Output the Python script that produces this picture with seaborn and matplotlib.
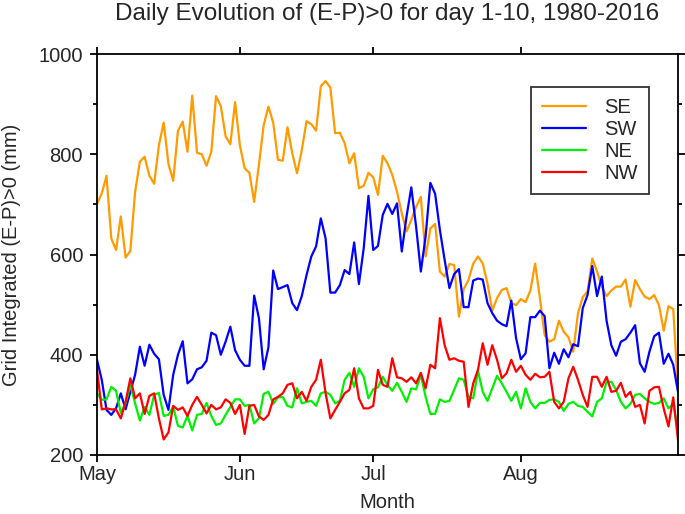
import numpy as np
import pandas as pd
import seaborn as sns
import matplotlib
matplotlib.use('Agg')
import matplotlib.pyplot as plt
from matplotlib.ticker import MultipleLocator

# daily values, 1 May .. 31 Aug (123 days)
se = [701, 722, 757, 632, 609, 676, 594, 607, 725, 785, 795, 757, 741, 818, 863, 781, 747, 847, 865, 805,
      917, 803, 800, 777, 805, 916, 896, 836, 820, 904, 818, 772, 763, 705, 779, 858, 895, 863, 789, 787,
      854, 802, 762, 808, 866, 860, 847, 936, 946, 933, 842, 843, 822, 782, 802, 732, 737, 763, 754, 719,
      797, 782, 759, 725, 682, 646, 669, 695, 715, 596, 652, 661, 566, 556, 581, 579, 476, 531, 549, 582,
      596, 582, 542, 488, 513, 529, 533, 503, 499, 511, 505, 528, 582, 513, 439, 426, 431, 468, 446, 435,
      406, 483, 515, 526, 592, 566, 536, 517, 528, 536, 536, 550, 496, 549, 531, 516, 511, 519, 499, 448,
      497, 491, 330]
sw = [390, 350, 290, 280, 293, 323, 291, 326, 360, 416, 378, 420, 402, 391, 320, 290, 360, 400, 427, 343,
      351, 371, 375, 388, 444, 439, 400, 426, 456, 409, 390, 378, 378, 518, 473, 371, 415, 568, 531, 535,
      539, 503, 489, 517, 559, 596, 616, 672, 632, 524, 524, 539, 569, 561, 624, 541, 612, 717, 609, 617,
      679, 701, 681, 702, 606, 676, 734, 656, 566, 636, 743, 721, 649, 589, 533, 561, 571, 495, 495, 548,
      552, 550, 503, 483, 468, 461, 457, 508, 433, 391, 403, 475, 475, 488, 477, 373, 404, 382, 411, 395,
      421, 417, 493, 519, 577, 517, 556, 468, 419, 398, 426, 431, 444, 459, 383, 366, 406, 437, 444, 382,
      402, 380, 326]
ne = [323, 310, 311, 336, 328, 284, 303, 340, 303, 269, 296, 280, 320, 324, 278, 280, 296, 258, 255, 278,
      249, 280, 282, 304, 278, 260, 263, 280, 296, 311, 311, 298, 300, 263, 273, 322, 326, 302, 315, 316,
      298, 295, 333, 303, 306, 308, 298, 323, 326, 320, 303, 308, 350, 364, 336, 373, 356, 313, 331, 335,
      356, 340, 328, 344, 326, 306, 333, 331, 360, 316, 282, 282, 311, 306, 308, 330, 353, 350, 316, 313,
      368, 326, 308, 333, 358, 343, 326, 308, 326, 293, 333, 306, 293, 304, 304, 310, 311, 306, 288, 302,
      306, 298, 296, 286, 277, 306, 313, 346, 346, 330, 306, 293, 302, 320, 322, 313, 306, 302, 304, 313,
      293, 302, 250]
nw = [370, 291, 293, 291, 291, 273, 306, 353, 313, 323, 282, 318, 323, 273, 231, 245, 298, 290, 295, 278,
      300, 316, 300, 283, 300, 291, 295, 311, 304, 282, 300, 242, 298, 300, 277, 270, 280, 311, 316, 323,
      340, 343, 313, 326, 308, 336, 350, 390, 323, 273, 290, 306, 323, 330, 373, 313, 293, 293, 298, 370,
      340, 336, 393, 355, 353, 346, 355, 343, 364, 333, 380, 373, 473, 419, 390, 393, 388, 386, 296, 343,
      370, 423, 380, 419, 390, 353, 363, 390, 366, 378, 360, 350, 362, 355, 356, 366, 306, 293, 306, 353,
      376, 350, 320, 296, 356, 356, 336, 356, 326, 328, 344, 316, 326, 296, 300, 263, 328, 335, 336, 293,
      257, 315, 230]

regions = ['SE', 'SW', 'NE', 'NW']
colors = ['#FF9A00', '#0000FF', '#00F000', '#FF0000']
month_labels = ['May', 'Jun', 'Jul', 'Aug']
month_ticks = [0, 30, 58, 89]

df = pd.DataFrame({'day': np.arange(len(se)), 'SE': se, 'SW': sw, 'NE': ne, 'NW': nw})
long = df.melt(id_vars='day', var_name='region', value_name='value')

sns.set_style('ticks')
plt.rcParams['font.family'] = ['Liberation Sans', 'DejaVu Sans']

fig = plt.figure(figsize=(6.85, 5.14), dpi=100)
ax = fig.add_axes([97 / 685, 59 / 514, 581 / 685, 401 / 514])

sns.lineplot(data=long, x='day', y='value', hue='region', hue_order=regions,
             palette=colors, linewidth=1.6, ax=ax)

ax.set_xlim(0, len(se) - 1)
ax.set_ylim(200, 1000)
ax.set_xticks(month_ticks)
ax.set_xticklabels(month_labels, fontsize=14.5)
ax.set_yticks([200, 400, 600, 800, 1000])
ax.yaxis.set_minor_locator(MultipleLocator(100))
ax.tick_params(axis='y', labelsize=14.5, pad=5)
ax.tick_params(axis='x', pad=2)
ax.tick_params(which='both', direction='out', top=True, right=True, width=1.3, color='black')
ax.tick_params(which='major', length=5)
ax.tick_params(which='minor', length=3)
ax.set_xlabel('')
ax.set_ylabel('')
for s in ax.spines.values():
    s.set_visible(True)
    s.set_linewidth(1.3)
    s.set_color('black')

leg = ax.legend(loc='upper right', bbox_to_anchor=(0.950, 0.918), borderaxespad=0,
                fontsize=14.5, frameon=True, fancybox=False, handlelength=2.2,
                handletextpad=0.9, labelspacing=0.15, borderpad=0.55)
leg.get_frame().set_edgecolor('black')
leg.get_frame().set_linewidth(1.3)
for line in leg.get_lines():
    line.set_linewidth(1.6)

fig.text(387.5 / 685, 1 - 14 / 514, 'Daily Evolution of (E-P)>0 for day 1-10, 1980-2016',
         ha='center', va='center', fontsize=17.5)
fig.text(387.5 / 685, 1 - 502 / 514, 'Month', ha='center', va='center', fontsize=14.5)
fig.text(12 / 685, 1 - 254.5 / 514, 'Grid Integrated (E-P)>0 (mm)', ha='center', va='center',
         rotation=90, fontsize=14.5)

fig.savefig('out.png', dpi=100)
